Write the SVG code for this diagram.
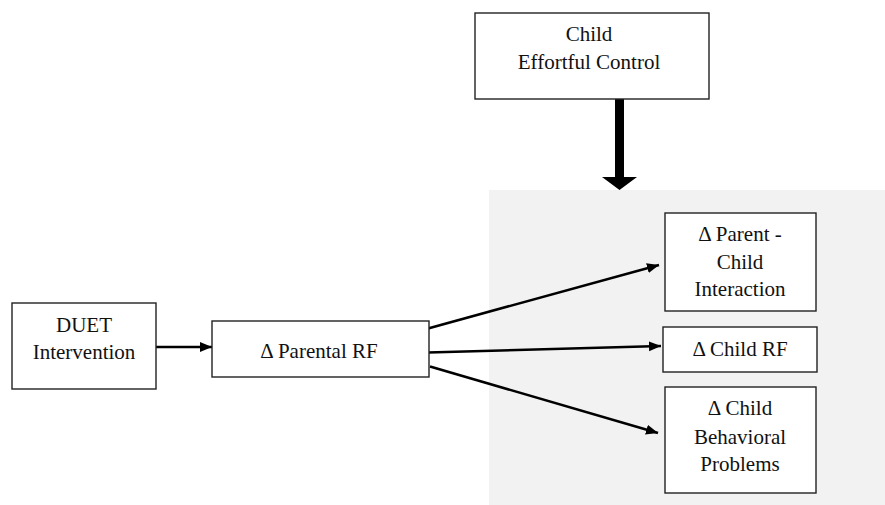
<svg xmlns="http://www.w3.org/2000/svg" width="885" height="505" viewBox="0 0 885 505">
<style>
.box{fill:#fff;stroke:#222;stroke-width:1.4}
.conn{stroke:#000;stroke-width:2.6;fill:none;marker-end:url(#ah)}
</style>
<defs>
<marker id="ah" markerUnits="userSpaceOnUse" markerWidth="14" markerHeight="12" refX="12" refY="5" orient="auto">
<path d="M0,0 L12,5 L0,10 Z" fill="#000"/>
</marker>
</defs>
<rect x="489" y="190" width="396" height="315" fill="#f2f2f2"/>
<g id="connectors">
<line class="conn" x1="156" y1="347" x2="212" y2="347"/>
<line class="conn" x1="428" y1="328.5" x2="659" y2="265"/>
<line class="conn" x1="428" y1="352.5" x2="661" y2="346"/>
<line class="conn" x1="430" y1="366.5" x2="658" y2="433"/>
<polygon points="615,99 624,99 624,177 637,177 619.5,190 602,177 615,177" fill="#000"/>
</g>
<g font-family="Liberation Serif, DejaVu Serif, serif" font-size="21" fill="#111" text-anchor="middle">
<g id="effortful">
<rect class="box" x="475" y="13" width="234" height="86"/>
<text x="589" y="41">Child</text>
<text x="589" y="68.5">Effortful Control</text>
</g>
<g id="duet">
<rect class="box" x="12" y="303" width="144" height="86"/>
<text x="84" y="332">DUET</text>
<text x="84" y="359">Intervention</text>
</g>
<g id="parentalrf">
<rect class="box" x="212" y="321" width="217" height="56"/>
<text x="319" y="358">Δ Parental RF</text>
</g>
<g id="pci">
<rect class="box" x="665" y="213" width="151" height="98"/>
<text x="740" y="241">Δ Parent -</text>
<text x="740" y="268.5">Child</text>
<text x="740" y="296">Interaction</text>
</g>
<g id="childrf">
<rect class="box" x="663" y="327" width="154" height="45"/>
<text x="740" y="356">Δ Child RF</text>
</g>
<g id="behav">
<rect class="box" x="665" y="387" width="151" height="106"/>
<text x="740" y="415">Δ Child</text>
<text x="740" y="443.5">Behavioral</text>
<text x="740" y="471">Problems</text>
</g>
</g>
</svg>
